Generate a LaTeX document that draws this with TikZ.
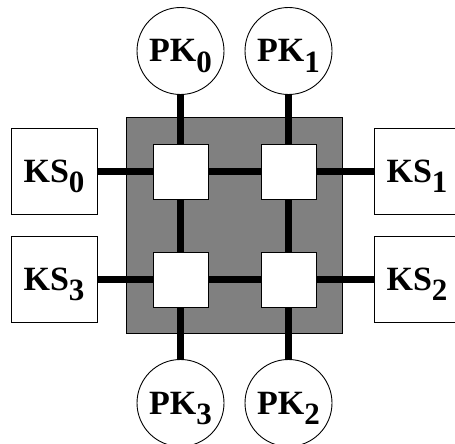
\documentclass[tikz,border=0pt]{standalone}
\usepackage{fontspec}
\setmainfont{Liberation Serif}
\pgfdeclarelayer{back}
\pgfdeclarelayer{mid}
\pgfsetlayers{back,mid,main}
% label with a lowered, slightly smaller index
\newcommand{\unitlbl}[2]{#1\raisebox{-10pt}{\fontsize{31}{33}\selectfont #2}}
\definecolor{fabricgray}{RGB}{128,128,128}
\begin{document}
\begin{tikzpicture}[x=1pt,y=-1pt,
  every node/.style={font=\fontsize{34}{38}\selectfont\bfseries, inner sep=0pt,
    text height=22pt, text depth=0pt},
  port/.style={draw, line width=0.9pt, fill=white, minimum size=86pt},
  proc/.style={draw, line width=0.9pt, fill=white, circle, minimum size=87pt},
  xbar/.style={draw, line width=0.9pt, fill=white, minimum size=55pt},
  link/.style={line width=7.5pt}]
\useasboundingbox (0,0) rectangle (455,444);

% crossbar switches
\node[xbar] (s00) at (180.5,171.5) {};
\node[xbar] (s01) at (288.5,171.5) {};
\node[xbar] (s10) at (180.5,279.5) {};
\node[xbar] (s11) at (288.5,279.5) {};

% key storage units
\node[port] (ks0) at (54,171.5)  {\unitlbl{KS}{0}};
\node[port] (ks1) at (417,171.5) {\unitlbl{KS}{1}};
\node[port] (ks3) at (54,279.5)  {\unitlbl{KS}{3}};
\node[port] (ks2) at (417,279.5) {\unitlbl{KS}{2}};

% processing units
\node[proc] (pk0) at (180.5,51)  {\unitlbl{PK}{0}};
\node[proc] (pk1) at (288.5,51)  {\unitlbl{PK}{1}};
\node[proc] (pk3) at (180.5,403) {\unitlbl{PK}{3}};
\node[proc] (pk2) at (288.5,403) {\unitlbl{PK}{2}};

% switch fabric background
\begin{pgfonlayer}{back}
  \node[draw, line width=0.9pt, fill=fabricgray, minimum size=216pt] (fabric) at (234,225) {};
\end{pgfonlayer}

% interconnect
\begin{pgfonlayer}{mid}
  \draw[link] (ks0) -- (s00);
  \draw[link] (s01) -- (ks1);
  \draw[link] (ks3) -- (s10);
  \draw[link] (s11) -- (ks2);
  \draw[link] (s00) -- (s01);
  \draw[link] (s10) -- (s11);
  \draw[link] (s00) -- (s10);
  \draw[link] (s01) -- (s11);
  \draw[link] (pk0) -- (s00);
  \draw[link] (pk1) -- (s01);
  \draw[link] (s10) -- (pk3);
  \draw[link] (s11) -- (pk2);
\end{pgfonlayer}
\end{tikzpicture}
\end{document}
